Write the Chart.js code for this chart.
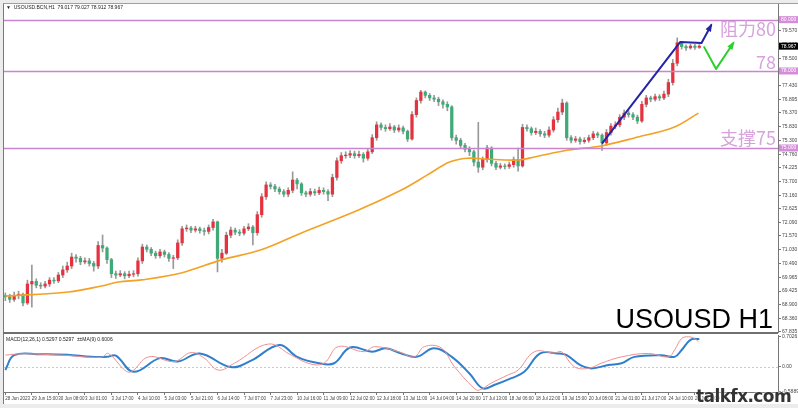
<!DOCTYPE html>
<html>
<head>
<meta charset="utf-8">
<script src="https://cdn.jsdelivr.net/npm/chart.js@4.4.1/dist/chart.umd.min.js"></script>
<style>
  html, body { margin: 0; padding: 0; background: #ececec; }
  #wrap { position: relative; width: 798px; height: 408px; overflow: hidden; }
  #frame { position: absolute; left: 3px; top: 3px; width: 795px; height: 401px; background: #fff;
           border-left: 1px solid #7a7a7a; border-top: 1px solid #a0a0a0; box-sizing: border-box; }
  #price { position: absolute; left: 0; top: 0; }
  #macd { position: absolute; left: 0; top: 333px; }
  #divider { position: absolute; left: 3px; top: 332px; width: 775px; height: 2px; background: #707070; }
  #mark { position: absolute; left: 696px; top: 386px; font: bold 17px "DejaVu Sans"; color: #333;
          letter-spacing: -0.6px; text-shadow: 0 0 2px #fff, 0 0 1px #fff; }
</style>
</head>
<body>
<div id="wrap">
  <div id="frame"></div>
  <canvas id="price" width="798" height="333"></canvas>
  <div id="divider"></div>
  <canvas id="macd" width="798" height="75"></canvas>
  <div id="mark">talkfx.com</div>
</div>
<script>
// H2 bars (one candle = 2 hours)
const opens = [
  69.25, 69.20, 69.10, 69.25, 69.30, 68.96, 69.70, 69.80, 69.65, 69.62,
  69.70, 69.85, 69.82, 70.05, 70.25, 70.40, 70.75, 70.70, 70.56, 70.60,
  70.50, 70.40, 71.20, 71.10, 70.65, 70.10, 70.05, 70.10, 70.02, 70.08,
  70.10, 70.60, 71.14, 71.05, 70.90, 70.80, 70.95, 70.85, 70.70, 70.72,
  71.30, 71.85, 71.88, 71.80, 71.85, 71.78, 71.75, 71.90, 72.12, 70.70,
  70.90, 71.60, 71.80, 71.72, 71.68, 71.85, 71.92, 71.70, 72.40, 73.10,
  73.56, 73.50, 73.40, 73.30, 73.20, 73.35, 73.75, 73.60, 73.25, 73.20,
  73.30, 73.25, 73.35, 73.30, 73.20, 73.85, 74.50, 74.70, 74.72, 74.78,
  74.70, 74.75, 74.60, 74.85, 75.40, 75.90, 75.80, 75.75, 75.82, 75.70,
  75.78, 75.65, 75.35, 76.30, 76.85, 77.18, 77.05, 76.95, 76.90, 76.80,
  76.70, 76.60, 75.40, 75.30, 75.10, 74.95, 74.85, 74.45, 74.25, 74.55,
  75.00, 74.40, 74.25, 74.30, 74.28, 74.35, 74.55, 74.30, 75.80, 75.75,
  75.60, 75.65, 75.55, 75.50, 75.70, 76.10, 76.40, 76.75, 75.40, 75.30,
  75.35, 75.25, 75.30, 75.40, 75.55, 75.50, 75.20, 75.60, 75.85, 75.90,
  76.20, 76.36, 76.30, 76.20, 76.05, 76.70, 76.95, 76.90, 77.00, 76.95,
  77.10, 77.55, 78.30, 79.10, 78.95, 78.90, 78.97, 78.92
];
const highs = [
  69.35, 69.30, 69.38, 69.42, 69.35, 69.85, 70.44, 69.90, 69.75, 69.80,
  69.95, 69.95, 70.15, 70.40, 70.55, 70.90, 70.85, 70.78, 70.72, 70.70,
  70.58, 71.35, 71.61, 71.15, 70.70, 70.20, 70.22, 70.18, 70.20, 70.22,
  70.72, 71.25, 71.22, 71.12, 70.98, 71.05, 71.02, 70.92, 70.82, 71.42,
  71.95, 72.00, 71.95, 71.95, 71.92, 71.88, 72.00, 72.22, 72.15, 71.05,
  71.72, 71.92, 71.88, 71.82, 71.95, 72.05, 71.98, 72.52, 73.22, 73.68,
  73.65, 73.58, 73.48, 73.38, 73.45, 74.07, 73.82, 73.65, 73.32, 73.42,
  73.40, 73.48, 73.45, 73.38, 73.98, 74.62, 74.82, 74.85, 74.90, 74.88,
  74.88, 74.82, 74.95, 75.52, 76.02, 75.98, 75.90, 75.95, 75.88, 75.90,
  75.85, 75.70, 76.42, 76.95, 77.25, 77.22, 77.12, 77.05, 76.98, 76.88,
  76.80, 76.65, 75.50, 75.38, 75.18, 75.05, 74.92, 76.00, 74.65, 75.10,
  75.05, 74.48, 74.40, 74.38, 74.45, 74.65, 75.00, 75.92, 75.90, 75.82,
  75.78, 75.72, 75.65, 75.82, 76.22, 76.55, 76.90, 76.80, 75.48, 75.45,
  75.42, 75.40, 75.50, 75.65, 75.62, 75.55, 75.72, 75.95, 76.02, 76.30,
  76.48, 76.45, 76.38, 76.28, 76.82, 77.05, 77.02, 77.10, 77.08, 77.22,
  77.68, 78.45, 79.29, 79.15, 79.02, 79.05, 79.04, 79.03
];
const lows = [
  69.05, 68.98, 69.02, 69.12, 68.85, 68.90, 68.80, 69.55, 69.52, 69.55,
  69.60, 69.72, 69.75, 69.95, 70.15, 70.30, 70.55, 70.45, 70.48, 70.40,
  70.20, 70.30, 70.95, 70.50, 69.95, 69.92, 69.98, 69.90, 69.95, 69.98,
  70.00, 70.50, 70.95, 70.80, 70.70, 70.72, 70.75, 70.58, 70.30, 70.65,
  71.20, 71.75, 71.70, 71.72, 71.68, 71.60, 71.65, 71.80, 70.17, 70.55,
  70.85, 71.50, 71.62, 71.58, 71.60, 71.78, 71.22, 71.60, 72.30, 73.00,
  73.40, 73.30, 73.20, 73.10, 73.10, 73.25, 73.40, 73.15, 73.10, 73.12,
  73.15, 73.18, 73.20, 72.95, 73.10, 73.75, 74.40, 74.60, 74.62, 74.60,
  74.62, 74.45, 74.52, 74.78, 75.30, 75.70, 75.65, 75.68, 75.60, 75.62,
  75.55, 75.25, 75.30, 76.20, 76.75, 76.95, 76.85, 76.80, 76.65, 76.55,
  76.45, 75.30, 75.15, 74.98, 74.85, 74.70, 74.30, 74.05, 74.15, 74.45,
  74.30, 74.15, 74.18, 74.18, 74.20, 74.25, 74.10, 74.25, 75.65, 75.50,
  75.52, 75.45, 75.40, 75.42, 75.62, 76.00, 76.30, 75.30, 75.20, 75.22,
  75.15, 75.18, 75.22, 75.32, 75.40, 74.90, 75.10, 75.50, 75.75, 75.82,
  76.10, 76.20, 76.10, 75.95, 76.00, 76.60, 76.80, 76.82, 76.85, 76.88,
  77.00, 77.45, 78.20, 78.85, 78.80, 78.85, 78.84, 78.88
];
const closes = [
  69.20, 69.10, 69.25, 69.30, 68.96, 69.70, 69.80, 69.65, 69.62, 69.70,
  69.85, 69.82, 70.05, 70.25, 70.40, 70.75, 70.70, 70.56, 70.60, 70.50,
  70.40, 71.20, 71.10, 70.65, 70.10, 70.05, 70.10, 70.02, 70.08, 70.10,
  70.60, 71.14, 71.05, 70.90, 70.80, 70.95, 70.85, 70.70, 70.72, 71.30,
  71.85, 71.88, 71.80, 71.85, 71.78, 71.75, 71.90, 72.12, 70.70, 70.90,
  71.60, 71.80, 71.72, 71.68, 71.85, 71.92, 71.70, 72.40, 73.10, 73.56,
  73.50, 73.40, 73.30, 73.20, 73.35, 73.75, 73.60, 73.25, 73.20, 73.30,
  73.25, 73.35, 73.30, 73.20, 73.85, 74.50, 74.70, 74.72, 74.78, 74.70,
  74.75, 74.60, 74.85, 75.40, 75.90, 75.80, 75.75, 75.82, 75.70, 75.78,
  75.65, 75.35, 76.30, 76.85, 77.18, 77.05, 76.95, 76.90, 76.80, 76.70,
  76.60, 75.40, 75.30, 75.10, 74.95, 74.85, 74.45, 74.25, 74.55, 75.00,
  74.40, 74.25, 74.30, 74.28, 74.35, 74.55, 74.30, 75.80, 75.75, 75.60,
  75.65, 75.55, 75.50, 75.70, 76.10, 76.40, 76.75, 75.40, 75.30, 75.35,
  75.25, 75.30, 75.40, 75.55, 75.50, 75.20, 75.60, 75.85, 75.90, 76.20,
  76.36, 76.30, 76.20, 76.05, 76.70, 76.95, 76.90, 77.00, 76.95, 77.10,
  77.55, 78.30, 79.10, 78.95, 78.90, 78.97, 78.92, 78.97
];
const lastPrice = 78.967;

// moving average (orange), sampled along the curve
const maIdx = [0, 14.3, 21.7, 25.6, 30.8, 39.8, 48.9, 57.9, 67, 79.9, 89.6, 95.5, 100.5, 104.5, 108.4, 116, 119.7, 127.4, 134.8, 142.3, 151.4, 156.8];
const maVal = [69.23, 69.39, 69.62, 69.78, 69.86, 70.13, 70.64, 71.03, 71.69, 72.58, 73.36, 73.95, 74.45, 74.60, 74.57, 74.53, 74.65, 74.92, 75.08, 75.39, 75.82, 76.36];

// MACD pane
const blueIdx = [0, 2, 8, 14, 19.5, 23, 25, 29, 35, 39, 44, 51, 55.6, 62, 66, 71, 74.4, 78, 83, 86,
  89.6, 93, 97, 101, 105, 108, 110.6, 114.5, 117.4, 121, 125, 127, 130, 132.6, 136.4, 139.4, 142.3, 148.4, 151.4, 153, 155, 157];
const blueVal = [-0.08, 0.27, 0.29, 0.28, 0.23, 0.23, 0.26, -0.12, 0.20, 0.12, 0.31, -0.01, 0.14, 0.51, 0.23, 0.08, 0.08, 0.45, 0.35, 0.43,
  0.31, 0.23, 0.43, 0.23, -0.16, -0.51, -0.43, -0.27, -0.12, 0.31, 0.31, 0.27, 0.04, -0.04, 0.04, 0.08, 0.23, 0.27, 0.23, 0.39, 0.63, 0.65];
const redIdx = [0, 3.6, 12.7, 21.7, 23.3, 27, 28.5, 32.4, 38.2, 42, 45, 48.2, 51.8, 59.5, 64.7, 69.2, 72.2, 75.3, 81.2, 83.5,
  89, 92.5, 94.8, 98.6, 101.6, 106, 107.2, 110, 113.8, 116, 119.7, 124.2, 125.8, 128.7, 131.9, 134.8, 139.4, 145.5, 150, 151.4,
  153, 154.5, 155.9, 156.8];
const redVal = [0.27, 0.30, 0.27, 0.22, 0.31, -0.08, -0.12, 0.23, 0.12, 0.33, 0.20, -0.08, 0.08, 0.53, 0.27, 0.06, 0.09, 0.47, 0.35, 0.47,
  0.35, 0.23, 0.47, 0.44, 0.00, -0.50, -0.55, -0.38, -0.19, -0.08, 0.35, 0.32, 0.35, 0.00, -0.04, 0.08, 0.23, 0.31, 0.23, 0.39,
  0.66, 0.70, 0.66, 0.59];

// axes
const xLabels = ['28 Jun 2023', '29 Jun 15:00', '30 Jun 08:00', '3 Jul 01:00', '3 Jul 17:00', '4 Jul 10:00', '5 Jul 03:00',
  '5 Jul 21:00', '6 Jul 14:00', '7 Jul 07:00', '7 Jul 23:00', '10 Jul 16:00', '11 Jul 09:00', '12 Jul 02:00', '12 Jul 18:00',
  '13 Jul 11:00', '14 Jul 04:00', '14 Jul 20:00', '17 Jul 13:00', '18 Jul 06:00', '18 Jul 22:00', '19 Jul 15:00',
  '20 Jul 08:00', '21 Jul 01:00', '21 Jul 17:00', '24 Jul 10:00', '25 Jul 03:00'];
const xTickBars = [0, 6, 12, 18, 24, 30, 36, 42, 48, 54, 60, 66, 72, 78, 84, 90, 96, 102, 108, 114, 120, 126, 132, 138, 144, 150, 156];
const priceTicks = [67.835, 68.360, 68.900, 69.425, 69.965, 70.490, 71.030, 71.570, 72.090, 72.625, 73.160, 73.700, 74.225,
  74.760, 75.300, 75.830, 76.370, 76.895, 77.430, 77.965, 78.500, 79.035, 79.570];
const macdTicks = [0.7026, 0, -0.5889];
const macdTickText = ['0.7026', '0.00', '-0.5889'];

// levels and hand-drawn marks (bar index / price)
const levels = [80, 78, 75];
const levelText = ['阻力80', '78', '支撑75'];
const trendIdx = [135.1, 152.7, 157.5, 159.7];
const trendPx = [75.20, 79.13, 79.09, 79.79];
const checkIdx = [158.1, 160.8, 164.7];
const checkPx = [78.93, 78.08, 79.09];

Chart.defaults.font.family = '"Liberation Sans", Arial, sans-serif';
const UP = '#e5323f', DOWN = '#3fa977', WICK = '#999';
const X_MIN = -0.3, X_MAX = 174.8;

function arrowPath(ctx, pts, color, head) {
  ctx.strokeStyle = color; ctx.fillStyle = color; ctx.lineWidth = 2; ctx.lineJoin = 'round'; ctx.lineCap = 'round';
  ctx.beginPath();
  pts.forEach(([px, py], k) => k ? ctx.lineTo(px, py) : ctx.moveTo(px, py));
  ctx.stroke();
  const [x1, y1] = pts[pts.length - 2], [x2, y2] = pts[pts.length - 1];
  const a = Math.atan2(y2 - y1, x2 - x1);
  ctx.beginPath();
  ctx.moveTo(x2 + 2 * Math.cos(a), y2 + 2 * Math.sin(a));
  ctx.lineTo(x2 - head * Math.cos(a - 0.45), y2 - head * Math.sin(a - 0.45));
  ctx.lineTo(x2 - head * Math.cos(a + 0.45), y2 - head * Math.sin(a + 0.45));
  ctx.closePath(); ctx.fill();
}

const priceOverlay = {
  id: 'priceOverlay',
  afterDatasetsDraw(chart) {
    const { ctx, chartArea: a, scales: { x, y } } = chart;
    ctx.save();
    ctx.strokeStyle = '#c886cf'; ctx.lineWidth = 1.3;
    levels.forEach(v => {
      const py = Math.round(y.getPixelForValue(v)) + 0.5;
      ctx.beginPath(); ctx.moveTo(a.left, py); ctx.lineTo(a.right, py); ctx.stroke();
    });
    arrowPath(ctx, trendIdx.map((i, k) => [x.getPixelForValue(i), y.getPixelForValue(trendPx[k])]), '#2424a8', 7);
    arrowPath(ctx, checkIdx.map((i, k) => [x.getPixelForValue(i), y.getPixelForValue(checkPx[k])]), '#2ccf2c', 7);

    ctx.fillStyle = '#d8a2dd'; ctx.textAlign = 'right'; ctx.textBaseline = 'alphabetic';
    ctx.font = '18px "Noto Sans CJK SC", sans-serif';
    const off = [16, -2, -3];
    levels.forEach((v, k) => ctx.fillText(levelText[k], a.right - 2, y.getPixelForValue(v) + off[k]));

    ctx.fillStyle = '#000'; ctx.font = '27px "Liberation Sans", Arial, sans-serif';
    ctx.fillText('USOUSD H1', a.right - 5, a.bottom - 5);

    ctx.textAlign = 'left'; ctx.fillStyle = '#222'; ctx.font = '5px "Liberation Sans", Arial, sans-serif';
    ctx.fillText('\u25BC  USOUSD.BCN,H1  79.017 79.027 78.912 78.967', a.left + 2, a.top + 5);
    ctx.restore();
  },
  afterDraw(chart) {
    const { ctx, chartArea: a, scales: { y } } = chart;
    ctx.save();
    ctx.font = '5px "Liberation Sans", Arial, sans-serif'; ctx.textBaseline = 'middle'; ctx.textAlign = 'left';
    const boxes = levels.map(v => [v, v.toFixed(3), '#d58cd9']).concat([[lastPrice, lastPrice.toFixed(3), '#000']]);
    boxes.forEach(([v, t, c]) => {
      const py = y.getPixelForValue(v);
      ctx.fillStyle = c; ctx.fillRect(a.right + 1, py - 3.5, 19, 7);
      ctx.fillStyle = '#fff'; ctx.fillText(t, a.right + 3, py);
    });
    ctx.restore();
  }
};

new Chart(document.getElementById('price'), {
  type: 'bar',
  data: {
    datasets: [
      { type: 'line', data: maIdx.map((i, k) => ({ x: i, y: maVal[k] })), borderColor: '#f4a124', borderWidth: 1.6,
        pointRadius: 0, tension: 0.35, order: 1 },
      { data: closes.map((c, i) => ({ x: i, y: [opens[i], c] })), barThickness: 2.6, grouped: false, order: 2,
        backgroundColor: ctx => (closes[ctx.dataIndex] >= opens[ctx.dataIndex] ? UP : DOWN) },
      { data: highs.map((h, i) => ({ x: i, y: [lows[i], h] })), barThickness: 1, grouped: false, order: 3,
        backgroundColor: WICK },
    ],
  },
  options: {
    responsive: false, animation: false, events: [],
    layout: { padding: { left: 4, top: 4, right: 0, bottom: 0 } },
    plugins: { legend: { display: false }, tooltip: { enabled: false } },
    scales: {
      x: { type: 'linear', display: false, offset: false, min: X_MIN, max: X_MAX },
      y: {
        position: 'right', min: 67.79, max: 80.61,
        afterBuildTicks: ax => { ax.ticks = priceTicks.map(v => ({ value: v })); },
        afterFit: ax => { ax.width = 20; ax.paddingTop = 0; ax.paddingBottom = 0; },
        ticks: { autoSkip: false, font: { size: 5 }, color: '#444', padding: 1, callback: v => v.toFixed(3) },
        grid: { drawOnChartArea: false, tickLength: 3, color: '#777' },
        border: { color: '#777' },
      },
    },
  },
  plugins: [priceOverlay],
});

const macdOverlay = {
  id: 'macdOverlay',
  beforeDatasetsDraw(chart) {
    const { ctx, chartArea: a, scales: { y } } = chart;
    ctx.save();
    ctx.strokeStyle = '#c9c9c9'; ctx.lineWidth = 1; ctx.setLineDash([2, 2]);
    const py = Math.round(y.getPixelForValue(0)) + 0.5;
    ctx.beginPath(); ctx.moveTo(a.left, py); ctx.lineTo(a.right, py); ctx.stroke();
    ctx.setLineDash([]);
    ctx.fillStyle = '#222'; ctx.font = '5px "Liberation Sans", Arial, sans-serif'; ctx.textBaseline = 'top';
    ctx.fillText('MACD(12,26,1) 0.5297 0.5297  \u00B1\u00B1MA(9) 0.6006', a.left + 2, a.top + 2);
    ctx.restore();
  }
};

new Chart(document.getElementById('macd'), {
  type: 'line',
  data: {
    datasets: [
      { data: redIdx.map((i, k) => ({ x: i, y: redVal[k] })), borderColor: '#f18f8f', borderWidth: 1,
        pointRadius: 0, tension: 0.4 },
      { data: blueIdx.map((i, k) => ({ x: i, y: blueVal[k] })), borderColor: '#2f7fcc', borderWidth: 2,
        pointRadius: 0, tension: 0.4 },
    ],
  },
  options: {
    responsive: false, animation: false, events: [],
    layout: { padding: { left: 4, top: 2, right: 0, bottom: 0 } },
    plugins: { legend: { display: false }, tooltip: { enabled: false } },
    scales: {
      x: {
        type: 'linear', offset: false, min: X_MIN, max: X_MAX,
        afterBuildTicks: ax => { ax.ticks = xTickBars.map(v => ({ value: v })); },
        afterFit: ax => { ax.height = 16; ax.paddingLeft = 0; ax.paddingRight = 0; },
        ticks: { autoSkip: false, maxRotation: 0, align: 'start', font: { size: 4.5 }, color: '#444', padding: 1,
                 callback: (v, i) => xLabels[i] },
        grid: { drawOnChartArea: false, tickLength: 3, color: '#777' },
        border: { color: '#777' },
      },
      y: {
        position: 'right', min: -0.593, max: 0.742,
        afterBuildTicks: ax => { ax.ticks = macdTicks.map(v => ({ value: v })); },
        afterFit: ax => { ax.width = 20; ax.paddingTop = 0; ax.paddingBottom = 0; },
        ticks: { autoSkip: false, font: { size: 5 }, color: '#444', padding: 1, callback: (v, i) => macdTickText[i] },
        grid: { drawOnChartArea: false, tickLength: 3, color: '#777' },
        border: { color: '#777' },
      },
    },
  },
  plugins: [macdOverlay],
});
</script>
</body>
</html>
